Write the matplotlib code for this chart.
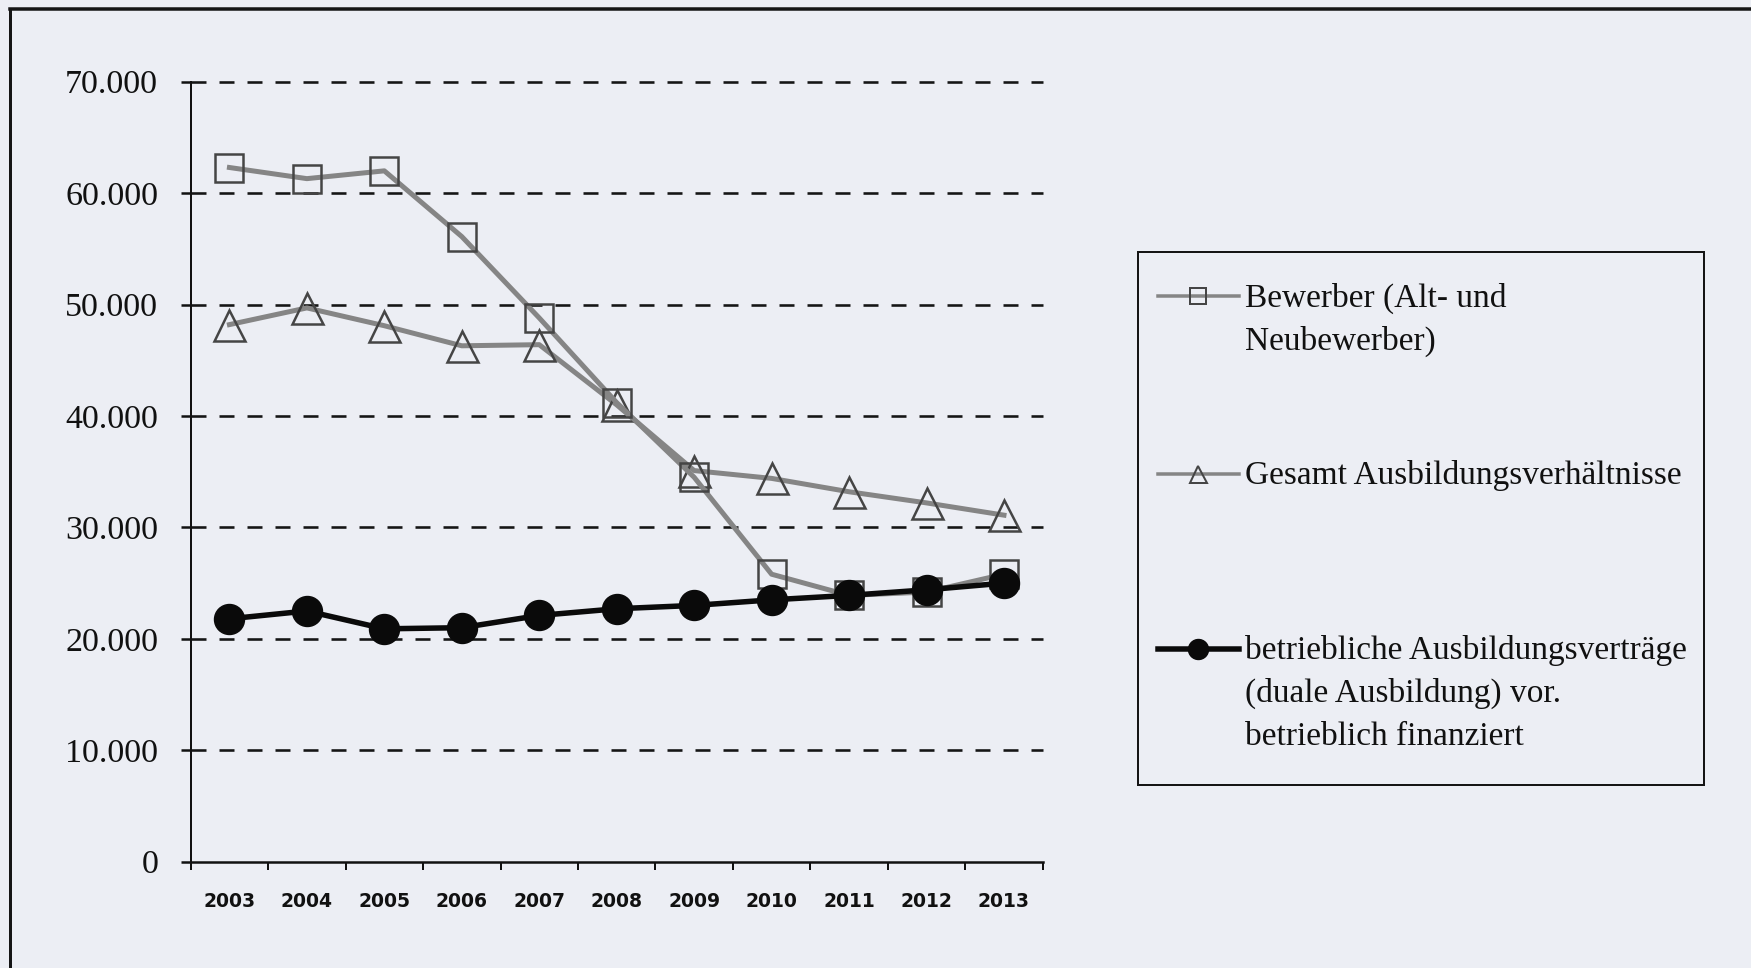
import matplotlib
matplotlib.use("Agg")
import matplotlib.pyplot as plt
from matplotlib.lines import Line2D
import numpy as np

# ---------------- data ----------------
years = ["2003", "2004", "2005", "2006", "2007", "2008",
         "2009", "2010", "2011", "2012", "2013"]
bewerber = [62300, 61300, 62000, 56100, 48800, 41200,
            34500, 25800, 23900, 24200, 25800]
gesamt = [48200, 49700, 48100, 46300, 46400, 41000,
          35100, 34400, 33200, 32200, 31100]
betrieblich = [21800, 22500, 20900, 21000, 22100, 22700,
               23000, 23500, 23900, 24400, 25000]
y_ticks = [0, 10000, 20000, 30000, 40000, 50000, 60000, 70000]
legend_labels = [
    ["Bewerber (Alt- und", "Neubewerber)"],
    ["Gesamt Ausbildungsverhältnisse"],
    ["betriebliche Ausbildungsverträge", "(duale Ausbildung) vor.",
     "betrieblich finanziert"],
]

# ---------------- setup ----------------
W, H, DPI = 1751, 968, 100
plt.rcParams['lines.scale_dashes'] = False
BG = '#eceef4'
GRAY = '#858585'
EDGE = '#454545'


def px(v):
    return v * 72.0 / DPI


fig = plt.figure(figsize=(W / DPI, H / DPI), dpi=DPI)
fig.patch.set_facecolor(BG)

# page frame (scan border)
fig.add_artist(Line2D([10 / W, 1.0], [1 - 9.3 / H] * 2, color='#151515',
                      lw=px(3.5), transform=fig.transFigure))
fig.add_artist(Line2D([10 / W] * 2, [0.0, 1 - 9.3 / H], color='#151515',
                      lw=px(3), transform=fig.transFigure))

# ---------------- main axes ----------------
L, R, T, B = 190.7, 1042.7, 81.7, 861.7
ax = fig.add_axes([L / W, 1 - B / H, (R - L) / W, (B - T) / H])
ax.set_facecolor('none')
x = np.arange(len(years))
ax.set_xlim(-0.5, len(years) - 0.5)
ax.set_ylim(0, 70000)
for s in ['top', 'right']:
    ax.spines[s].set_visible(False)
ax.spines['left'].set_linewidth(px(2))
ax.spines['bottom'].set_linewidth(px(2.5))
ax.spines['left'].set_color('#111')
ax.spines['bottom'].set_color('#111')

ax.set_yticks(y_ticks)
ax.set_yticklabels([f"{v:,}".replace(",", ".") for v in y_ticks],
                   fontfamily='Liberation Serif', fontsize=24.5, color='#111')
ax.tick_params(axis='y', direction='out', length=px(10.5), width=px(2.5),
               pad=px(22), colors='#111')

ax.set_xticks(x)
ax.set_xticklabels(years, fontfamily='DejaVu Sans', fontweight='bold',
                   fontsize=13.5, color='#111')
ax.tick_params(axis='x', which='major', length=0, pad=px(30))
ax.set_xticks(np.arange(-0.5, len(years)), minor=True)
ax.tick_params(axis='x', which='minor', direction='out', length=px(8),
               width=px(2), colors='#111')

# dashed horizontal grid lines
for v in y_ticks[1:]:
    ax.axhline(v, color='#151515', lw=px(2.6), linestyle=(0, (px(15), px(13))),
               clip_on=False, zorder=1)

# ---------------- series ----------------
ax.plot(x, gesamt, color=GRAY, lw=px(5), marker='^', ms=px(31),
        mfc='none', mec=EDGE, mew=px(2.5), zorder=3, clip_on=False)
ax.plot(x, bewerber, color=GRAY, lw=px(5), marker='s', ms=px(28.5),
        mfc='none', mec=EDGE, mew=px(2.5), zorder=3, clip_on=False)
ax.plot(x, betrieblich, color='#0a0a0a', lw=px(5.5), marker='o', ms=px(30),
        mfc='#0a0a0a', mec='#0a0a0a', zorder=4, clip_on=False)

# ---------------- legend ----------------
LL, LR, LT, LB = 1138, 1704, 251.8, 784.5
lax = fig.add_axes([LL / W, 1 - LB / H, (LR - LL) / W, (LB - LT) / H])
lax.set_xlim(LL, LR)
lax.set_ylim(LB, LT)
lax.set_xticks([])
lax.set_yticks([])
lax.set_facecolor('none')
for s in lax.spines.values():
    s.set_linewidth(px(2))
    s.set_color('#151515')

handle_styles = [
    dict(color=GRAY, lw=px(3.5), marker='s', ms=px(16), mfc='none',
         mec=EDGE, mew=px(2)),
    dict(color=GRAY, lw=px(3.5), marker='^', ms=px(17), mfc='none',
         mec=EDGE, mew=px(2)),
    dict(color='#0a0a0a', lw=px(5.5), marker='o', ms=px(20),
         mfc='#0a0a0a', mec='#0a0a0a'),
]
first_baselines = [306.5, 484.0, 659.0]
line_step = 43.0
for lines, style, b0 in zip(legend_labels, handle_styles, first_baselines):
    yc = b0 - 10.5
    lax.plot([1158, 1198, 1239], [yc, yc, yc], markevery=[1], **style)
    for i, t in enumerate(lines):
        lax.text(1245, b0 + i * line_step, t, fontfamily='Liberation Serif',
                 fontsize=24, va='baseline', ha='left', color='#111')

fig.savefig('out.png', dpi=DPI, facecolor=BG)
